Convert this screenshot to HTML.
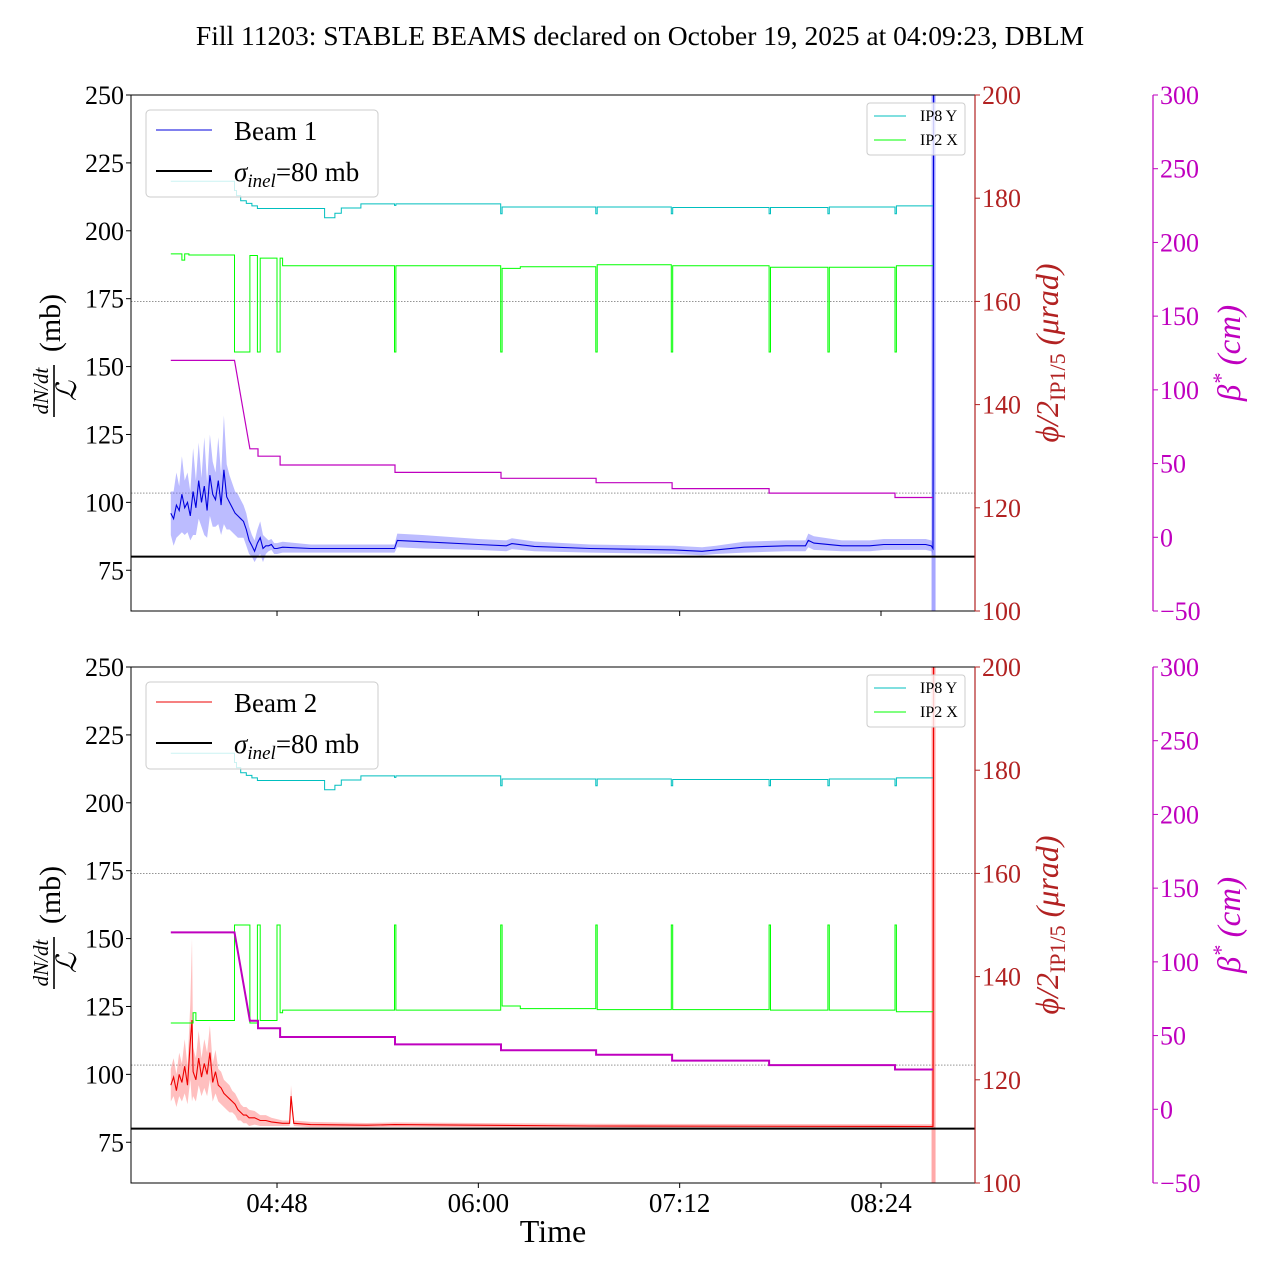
<!DOCTYPE html>
<html><head><meta charset="utf-8"><style>
html,body{margin:0;padding:0;background:#fff;}
svg{display:block;font-family:"Liberation Serif",serif;}
</style></head><body>
<svg id="chart" width="1280" height="1280" viewBox="0 0 1280 1280" xmlns="http://www.w3.org/2000/svg">
<text x="640" y="45" font-size="27.5" text-anchor="middle">Fill 11203: STABLE BEAMS declared on October 19, 2025 at 04:09:23, DBLM</text>
<text x="553" y="1242" font-size="32" text-anchor="middle">Time</text>
</svg>
<script>
// ---- data (time in minutes since midnight) ----
const xTickLabels = ["04:48","06:00","07:12","08:24"];
const xTickTimes = [288,360,432,504];
const leftTicks = [75,100,125,150,175,200,225,250];
const redTicks = [100,120,140,160,180,200];
const magTicks = [-50,0,50,100,150,200,250,300];

const b1Times = [250,251,252,253,254,255,256,257,258,259,260,261,262,263,264,265,266,267,268,269,270,271,272,273,274,275,276,277,278,279,280,281,282,283,284,285,286,287,288,290,300,320,330,331,340,360,370,372,380,400,430,440,445,455,470,477,478,480,490,500,505,520,522,522.6,522.8];
const b1Values = [96,94,99,97,103,98,100,95,104,98,108,100,106,97,110,103,101,108,99,112,102,100,98,96,95,94,93,90,86,84,82,85,87,83,84,84,84.5,83,83,83.5,83,83,83,86,85.5,84.5,84,84.8,83.8,83,82.5,82,82.5,83.5,84,84,86,85,84,84,84.5,84.5,84,83,250];
const b1Spread = [8,10,12,9,14,10,11,9,16,10,14,9,18,10,15,12,10,16,11,20,12,10,9,8,8,7,6,6,5,4,4,5,6,5,3,2,2,2,2,2,1.5,1.5,1.5,2.5,2.5,2,2,2,1.8,1.5,1.5,1.5,1.5,2,2,2,2.5,2.5,2,2,2,2,2,2,0];

const b2Times = [250,251,252,253,254,255,256,257,257.6,258,259,260,261,262,263,264,265,266,267,268,269,270,271,272,273,274,275,276,277,278,280,282,284,286,290,292.5,293,294,300,320,330,400,522,522.6,522.8];
const b2Values = [96,99,94,100,97,103,96,112,120,101,98,106,99,104,100,108,97,101,96,95,93,92,91,90,89,87,86,85,85,84,84,83,83,82.5,82,82,92,82,81.5,81.3,81.5,81,80.8,80.8,250];
const b2Spread = [6,7,6,8,7,10,7,14,30,9,8,10,7,9,8,10,7,8,6,6,5,5,5,4,4,4,3,3,3,3,2.5,2,2,1.5,1,1,4,1,1,0.8,0.8,0.8,0.8,0.8,0];

// step-post series: value holds from its time until the next time
const ip8Times = [250,272.8,273.5,275,277,279,281,305,308.7,311,318,330,330.5,368,368.5,402,402.5,429,429.5,464,464.5,485,485.5,509,509.5,522.6];
const ip8Values = [183.3,181.5,180.5,179.5,179,178.5,178,176.2,177.1,178.1,178.9,178.6,178.9,177,178.3,177,178.3,177,178.2,177,178.2,177,178.3,177,178.5,178.5];

const ip2TopTimes = [250,254,255,256.5,272.8,278.3,281,282,288,289.1,290,330,330.5,368,368.5,375,402,402.5,429,429.5,464,464.5,485,485.5,509,509.5,522.6];
const ip2TopValues = [169.2,168,169.2,169,150.2,168.9,150.2,168.4,150.2,168.4,166.9,150.2,166.9,150.2,166.4,166.7,150.2,167.1,150.2,166.9,150.2,166.6,150.2,166.6,150.2,166.9,166.9];

const ip2BotTimes = [250,257,258,259,272.8,278.3,281,282,288,289.1,290,330,330.5,368,368.5,375,402,402.5,429,429.5,464,464.5,485,485.5,509,509.5,522.6];
const ip2BotValues = [131,131,133,131.5,150,131,150,131.5,150,133,133.5,150,133.5,150,134.3,133.8,150,133.6,150,133.6,150,133.5,150,133.5,150,133.2,133.2];

// beta* polyline (duplicate times = vertical steps)
const betaTimes = [250,272.8,278.3,281.2,281.2,289.1,289.1,330.2,330.2,368.1,368.1,402.1,402.1,429.3,429.3,464,464,509,509,522.6];
const betaValues = [120,120,60,60,55,55,49,49,44,44,40,40,37,37,33,33,30,30,27,27];
// ---- end data ----

const NS="http://www.w3.org/2000/svg";
const svg=document.getElementById('chart');
const X0=131,X1=975,T0=288-146*72/201.3,T1=504+94*72/201.3;
function xOf(t){return X0+(t-T0)/(T1-T0)*(X1-X0);}
function mk(tag,attrs,parent){const e=document.createElementNS(NS,tag);for(const k in attrs)e.setAttribute(k,attrs[k]);(parent||svg).appendChild(e);return e;}
function stepPath(ts,vs,yf){let d='';for(let i=0;i<ts.length;i++){const x=xOf(ts[i]).toFixed(1),y=yf(vs[i]).toFixed(1);if(i===0)d+='M'+x+' '+y;else{d+=' H'+x+' V'+y;}}return d;}
function linePath(ts,vs,yf){return ts.map((t,i)=>(i?'L':'M')+xOf(t).toFixed(1)+' '+yf(vs[i]).toFixed(1)).join(' ');}

function panel(top,beamName,color,bandColor,ts,vs,sp,ip2T,ip2V,magW){
  const bot=top+516;
  const yL=v=>bot-(v-60)/190*516;
  const yR=v=>bot-(v-100)/100*516;
  const yM=v=>bot-(v+50)/350*516;
  const g=mk('g',{});
  
  
  let gl=mk('line',{x1:X0,x2:X1,y1:yR(160),y2:yR(160),stroke:'#555','stroke-width':0.6,'stroke-dasharray':'1.5,1.5'},g);
  
  
  gl=mk('line',{x1:X0,x2:X1,y1:yM(30),y2:yM(30),stroke:'#555','stroke-width':0.6,'stroke-dasharray':'1.5,1.5'},g);
  
  
  let d='';ts.forEach((t,i)=>{d+=(i?'L':'M')+xOf(t).toFixed(1)+' '+yL(vs[i]+sp[i]).toFixed(1);});
  for(let i=ts.length-1;i>=0;i--){d+='L'+xOf(ts[i]).toFixed(1)+' '+yL(vs[i]-sp[i]).toFixed(1);}
  let e=mk('path',{d:d+'Z',fill:bandColor,opacity:0.45},g);
  
  
  const xe=xOf(ts[ts.length-1]);
  e=mk('rect',{x:xe-2,y:top,width:4,height:516,fill:bandColor,opacity:0.6},g);
  
  
  e=mk('path',{d:linePath(ts,vs,yL),fill:'none',stroke:color,'stroke-width':1.1},g);
  
  
  e=mk('line',{x1:X0,x2:X1,y1:yL(80),y2:yL(80),stroke:'#000','stroke-width':2},g);
  
  
  e=mk('path',{d:stepPath(ip8Times,ip8Values,yR),fill:'none',stroke:'#00bfbf','stroke-width':1},g);
  
  
  e=mk('path',{d:stepPath(ip2T,ip2V,yR),fill:'none',stroke:'#00ff00','stroke-width':1},g);
  
  
  e=mk('path',{d:linePath(betaTimes,betaValues,yM),fill:'none',stroke:'#bf00bf','stroke-width':magW},g);
  
  
  e=mk('rect',{x:X0,y:top,width:X1-X0,height:516,fill:'none',stroke:'#000','stroke-width':1},g);
  
  
  leftTicks.forEach(v=>{const y=yL(v);mk('line',{x1:X0-5,x2:X0,y1:y,y2:y,stroke:'#000'},g);
    const t=mk('text',{x:X0-7,y:y+9,'font-size':26,'text-anchor':'end'},g);t.textContent=v;
    
    });
  redTicks.forEach(v=>{const y=yR(v);mk('line',{x1:X1,x2:X1+5,y1:y,y2:y,stroke:'#b22222'},g);
    const t=mk('text',{x:X1+7,y:y+9,'font-size':26,fill:'#b22222'},g);t.textContent=v;
    
    });
  mk('line',{x1:X1,x2:X1,y1:top,y2:bot,stroke:'#b22222','stroke-width':1.2},g);
  mk('line',{x1:1153,x2:1153,y1:top,y2:bot,stroke:'#bf00bf','stroke-width':1.2},g);
  magTicks.forEach(v=>{const y=yM(v);mk('line',{x1:1153,x2:1158,y1:y,y2:y,stroke:'#bf00bf'},g);
    const t=mk('text',{x:1160,y:y+9,'font-size':26,fill:'#bf00bf'},g);t.textContent=(v<0?'\u2212'+(-v):v);
    
    });
  xTickTimes.forEach((tt,i)=>{const x=xOf(tt);mk('line',{x1:x,x2:x,y1:bot,y2:bot+5,stroke:'#000'},g);
    if(top>300){const t=mk('text',{x:x,y:bot+29,'font-size':27,'text-anchor':'middle'},g);t.textContent=xTickLabels[i];
    
    }});
  const cy=top+258;
  let lg=mk('g',{transform:`translate(62,${cy+38}) rotate(-90)`},g);
  
  
  let t=mk('text',{x:0,y:-14,'font-size':21,'font-style':'italic','text-anchor':'middle'},lg);t.textContent='dN/dt';
  mk('line',{x1:-26,x2:26,y1:-8,y2:-8,stroke:'#000','stroke-width':1.6},lg);
  t=mk('text',{x:0,y:14,'font-size':28,'font-style':'italic','text-anchor':'middle','font-family':'DejaVu Serif,serif'},lg);t.textContent='\u2112';
  t=mk('text',{x:68,y:-2,'font-size':30,'text-anchor':'middle'},lg);t.textContent='(mb)';
  t=mk('text',{transform:`translate(1058,${cy}) rotate(-90)`,'font-size':32,fill:'#b22222','text-anchor':'middle','font-style':'italic'},g);
  t.innerHTML='\u03d5/2<tspan font-style="normal" font-size="22" dy="7">IP1/5</tspan><tspan dy="-7"> (\u03bcrad)</tspan>';
  
  
  t=mk('text',{transform:`translate(1240,${cy}) rotate(-90)`,'font-size':33,fill:'#bf00bf','text-anchor':'middle','font-style':'italic'},g);
  t.innerHTML='\u03b2<tspan font-size="22" dy="-12">*</tspan><tspan dy="12"> (cm)</tspan>';
  
  
  const lt=top+15;
  let L=mk('g',{},g);
  
  
  mk('rect',{x:146,y:lt,width:232,height:87,rx:4,fill:'#fff','fill-opacity':0.8,stroke:'#ccc'},L);
  mk('line',{x1:156,x2:212,y1:lt+20,y2:lt+20,stroke:color,'stroke-width':1},L);
  t=mk('text',{x:234,y:lt+30,'font-size':27},L);t.textContent=beamName;
  mk('line',{x1:156,x2:212,y1:lt+61,y2:lt+61,stroke:'#000','stroke-width':2},L);
  t=mk('text',{x:234,y:lt+71,'font-size':27},L);
  t.innerHTML='<tspan font-style="italic">\u03c3</tspan><tspan font-style="italic" font-size="19" dy="6">inel</tspan><tspan dy="-6">=80 mb</tspan>';
  L=mk('g',{},g);
  
  
  mk('rect',{x:867,y:top+8,width:98,height:52,rx:3,fill:'#fff','fill-opacity':0.8,stroke:'#ccc'},L);
  mk('line',{x1:874,x2:906,y1:top+21,y2:top+21,stroke:'#00bfbf'},L);
  t=mk('text',{x:920,y:top+26,'font-size':16},L);t.textContent='IP8 Y';
  mk('line',{x1:874,x2:906,y1:top+45,y2:top+45,stroke:'#00ff00'},L);
  t=mk('text',{x:920,y:top+50,'font-size':16},L);t.textContent='IP2 X';
}
panel(95,'Beam 1','#0000dd','#6a6aff',b1Times,b1Values,b1Spread,ip2TopTimes,ip2TopValues,1.2);
panel(667,'Beam 2','#ee0000','#ff7070',b2Times,b2Values,b2Spread,ip2BotTimes,ip2BotValues,2);
</script>
</body></html>
